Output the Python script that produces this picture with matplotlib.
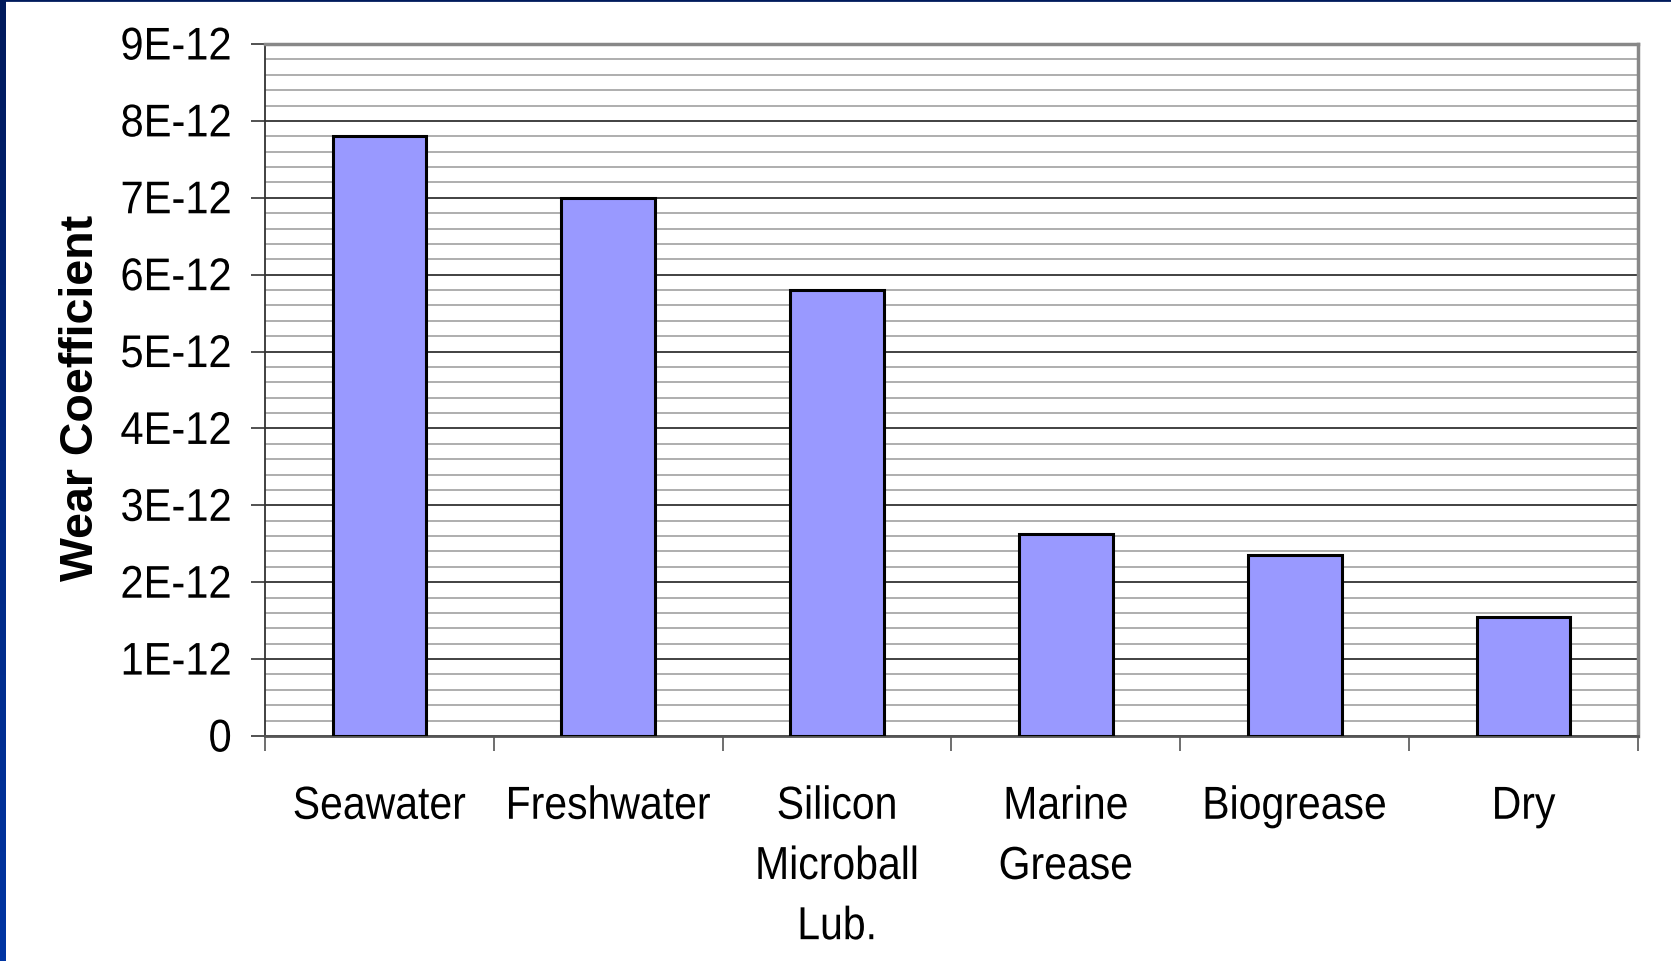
import numpy as np
import matplotlib.pyplot as plt
from matplotlib.colors import LinearSegmentedColormap
from matplotlib.patheffects import AbstractPathEffect
from matplotlib.transforms import Affine2D
from matplotlib.ticker import FuncFormatter, FixedLocator

plt.rcParams['font.family'] = ['Liberation Sans', 'DejaVu Sans']

lubricants = ['Seawater', 'Freshwater', 'Silicon\nMicroball\nLub.', 'Marine\nGrease', 'Biogrease', 'Dry']
wear_coeff = [7.8e-12, 7.0e-12, 5.8e-12, 2.63e-12, 2.35e-12, 1.55e-12]


class TallGlyphs(AbstractPathEffect):
    """Stretch glyphs upward from the baseline (the chart text is slightly tall)."""
    def __init__(self, sy=1.12):
        super().__init__()
        self.sy = sy

    def draw_path(self, renderer, gc, tpath, affine, rgbFace=None):
        renderer.draw_path(gc, tpath, Affine2D().scale(1, self.sy) + affine, rgbFace)


fig = plt.figure(figsize=(16.71, 9.62), dpi=100)

# slide frame: blue gradient strip on the left, thin navy line on top
strip = fig.add_axes([0, 0, 6 / 1671, 1])
grad = np.linspace(0, 1, 256).reshape(-1, 1)
strip.imshow(grad, aspect='auto', origin='upper',
             cmap=LinearSegmentedColormap.from_list('frame', ['#001a5c', '#0035a3']))
strip.axis('off')
fig.add_artist(plt.Line2D([0, 1], [1 - 1 / 962, 1 - 1 / 962], color='#001a5c', lw=2,
                          transform=fig.transFigure))

ax = fig.add_axes([265 / 1671, 1 - 737 / 962, (1638 - 265) / 1671, (737 - 45) / 962])
x = np.arange(len(lubricants))
ax.bar(x, wear_coeff, width=0.41, color='#9999ff', edgecolor='black', linewidth=2.2, zorder=3)

ax.set_xlim(-0.5, len(lubricants) - 0.5)
ax.set_ylim(0, 9e-12)

# y axis: major every 1E-12, minor every 0.2E-12
ax.yaxis.set_major_locator(FixedLocator(np.arange(0, 10) * 1e-12))
ax.yaxis.set_minor_locator(FixedLocator(np.arange(0, 46) * 0.2e-12))
ax.yaxis.set_major_formatter(FuncFormatter(
    lambda v, p: '0' if abs(v) < 1e-15 else '%dE-12' % round(v * 1e12)))
ax.grid(which='major', axis='y', color='#333333', lw=1.3, zorder=1)
ax.grid(which='minor', axis='y', color='#a8a8a8', lw=1.3, zorder=1)
ax.tick_params(axis='y', which='major', length=10, width=1.2, color='#333333',
               labelsize=30, pad=14)
ax.tick_params(axis='y', which='minor', length=0)

# x axis: ticks between categories, labels centred under bars
ax.xaxis.set_major_locator(FixedLocator(np.arange(-0.5, len(lubricants), 1.0)))
ax.xaxis.set_minor_locator(FixedLocator(x))
ax.set_xticklabels([])
ax.set_xticks(x, lubricants, minor=True)
ax.tick_params(axis='x', which='major', length=11, width=1.2, color='#555555')
ax.tick_params(axis='x', which='minor', length=0, labelsize=29.5, pad=38)
for lbl in ax.get_xticklabels(minor=True):
    lbl.set_linespacing(1.74)
    lbl.set_path_effects([TallGlyphs(1.13)])
for lbl in ax.get_yticklabels():
    lbl.set_path_effects([TallGlyphs(1.1)])

ax.set_ylabel('Wear Coefficient', fontsize=33.5, fontweight='bold')
ax.yaxis.set_label_coords(-0.118, 0.49)

ax.spines['top'].set_color('#888888')
ax.spines['top'].set_linewidth(2.5)
ax.spines['right'].set_color('#888888')
ax.spines['right'].set_linewidth(2.5)
ax.spines['left'].set_color('#333333')
ax.spines['left'].set_linewidth(1.3)
ax.spines['bottom'].set_color('#555555')
ax.spines['bottom'].set_linewidth(2)

fig.savefig('out.png', dpi=100)
